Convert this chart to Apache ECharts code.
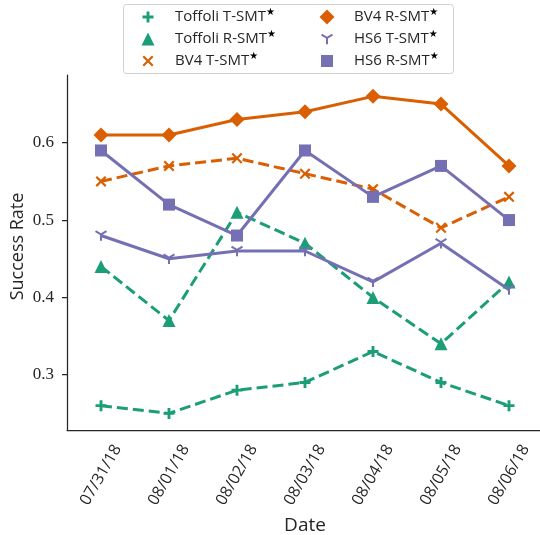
<!DOCTYPE html>
<html>
<head>
<meta charset="utf-8">
<script src="https://cdn.jsdelivr.net/npm/echarts@6/dist/echarts.min.js"></script>
<style>html,body{margin:0;padding:0;background:#fff}#c{width:540px;height:535px}</style>
</head>
<body>
<div id="c"></div>
<script>
var dates = ['07/31/18','08/01/18','08/02/18','08/03/18','08/04/18','08/05/18','08/06/18'];
var toffoliT = [0.26, 0.25, 0.28, 0.29, 0.33, 0.29, 0.26];
var toffoliR = [0.44, 0.37, 0.51, 0.47, 0.40, 0.34, 0.42];
var bv4T = [0.55, 0.57, 0.58, 0.56, 0.54, 0.49, 0.53];
var bv4R = [0.61, 0.61, 0.63, 0.64, 0.66, 0.65, 0.57];
var hs6T = [0.48, 0.45, 0.46, 0.46, 0.42, 0.47, 0.41];
var hs6R = [0.59, 0.52, 0.48, 0.59, 0.53, 0.57, 0.50];
var yTicks = [0.3, 0.4, 0.5, 0.6];

var GREEN = '#1b9e77', ORANGE = '#d95f02', PURPLE = '#7570b3';
var PLUS = 'path://M37,0 L63,0 L63,37 L100,37 L100,63 L63,63 L63,100 L37,100 L37,63 L0,63 L0,37 L37,37 Z';
var CROSS = 'path://M0,14 L14,0 L50,36 L86,0 L100,14 L64,50 L100,86 L86,100 L50,64 L14,100 L0,86 L36,50 Z';
var TRID = 'path://M50,40.8 L89.3,18.1 L97.3,31.9 L58,54.6 L58,100 L42,100 L42,54.6 L2.7,31.9 L10.7,18.1 Z';

var defs = [
  {name: 'Toffoli T-SMT', data: toffoliT, color: GREEN, dash: [11, 5], sym: PLUS, size: 11, lx: 148, ly: 17},
  {name: 'Toffoli R-SMT', data: toffoliR, color: GREEN, dash: [11, 5], sym: 'triangle', size: 13, lx: 148, ly: 39},
  {name: 'BV4 T-SMT', data: bv4T, color: ORANGE, dash: [11, 5], sym: CROSS, size: 11, lx: 148, ly: 61},
  {name: 'BV4 R-SMT', data: bv4R, color: ORANGE, dash: 'solid', sym: 'diamond', size: 15, lx: 327, ly: 17},
  {name: 'HS6 T-SMT', data: hs6T, color: PURPLE, dash: 'solid', sym: TRID, size: 12, lx: 327, ly: 39},
  {name: 'HS6 R-SMT', data: hs6R, color: PURPLE, dash: 'solid', sym: 'rect', size: 12, lx: 327, ly: 61}
];

var SANS = '"Open Sans", "DejaVu Sans", sans-serif';
var SERIF = '"Liberation Serif", "DejaVu Serif", serif';

var series = defs.map(function (d) {
  return {
    name: d.name, type: 'line', data: d.data,
    symbol: d.sym, symbolSize: d.size, symbolKeepAspect: true,
    lineStyle: {color: d.color, width: 3, type: d.dash},
    itemStyle: {color: d.color, borderWidth: 0},
    emphasis: {disabled: true},
    animation: false
  };
});

var legends = defs.map(function (d) {
  var pad = 27 - d.size / 2 - 5;
  return {
    left: d.lx - d.size / 2, top: d.ly - 10, padding: 0,
    itemWidth: d.size, itemHeight: d.size,
    selectedMode: false,
    data: [{name: d.name, icon: d.sym}],
    formatter: function (n) { return n + '{s|★}'; },
    textStyle: {
      fontFamily: SANS, fontSize: 15, color: '#262626', lineHeight: 20, padding: [0, 0, 0, pad],
      rich: {s: {fontSize: 10, lineHeight: 10, verticalAlign: 'top', fontFamily: '"DejaVu Sans", sans-serif', color: '#000'}}
    }
  };
});

var chart = echarts.init(document.getElementById('c'), null, {renderer: 'canvas'});
chart.setOption({
  animation: false,
  backgroundColor: '#fff',
  grid: {left: 67, top: 75, width: 476, bottom: 105, containLabel: false, outerBoundsMode: 'none'},
  legend: legends,
  xAxis: {
    type: 'category', data: dates, boundaryGap: true,
    name: 'Date', nameLocation: 'middle', nameGap: 96,
    nameTextStyle: {fontFamily: SANS, fontSize: 19, color: '#262626', verticalAlign: 'middle'},
    axisLine: {lineStyle: {color: '#262626', width: 1.25}},
    axisTick: {alignWithLabel: true, length: 4.5, lineStyle: {color: '#262626', width: 1.25}},
    axisLabel: {rotate: 60, align: 'center', verticalAlign: 'middle', margin: 45,
      fontFamily: SANS, fontSize: 16, color: '#262626', interval: 0},
    splitLine: {show: false}
  },
  yAxis: {
    type: 'value', min: 0.2285, max: 0.6876,
    axisLine: {show: true, lineStyle: {color: '#262626', width: 1.25}},
    axisTick: {show: true, length: 5, customValues: yTicks, lineStyle: {color: '#262626', width: 1.25}},
    axisLabel: {customValues: yTicks, margin: 13, fontFamily: SERIF, fontSize: 17, color: '#262626',
      formatter: function (v) { return v.toFixed(1); }},
    splitLine: {show: false}
  },
  graphic: [
    {type: 'rect', shape: {x: 123.5, y: 4.5, width: 330, height: 69, r: 3},
      style: {fill: 'rgba(255,255,255,0.8)', stroke: '#d0d0d0', lineWidth: 1}, z: -1},
    {type: 'text', x: 17.5, y: 246.5, rotation: Math.PI / 2,
      style: {text: 'Success Rate', fontFamily: SANS, fontSize: 18, fill: '#262626', align: 'center', verticalAlign: 'middle'}}
  ],
  series: series
});
</script>
</body>
</html>
